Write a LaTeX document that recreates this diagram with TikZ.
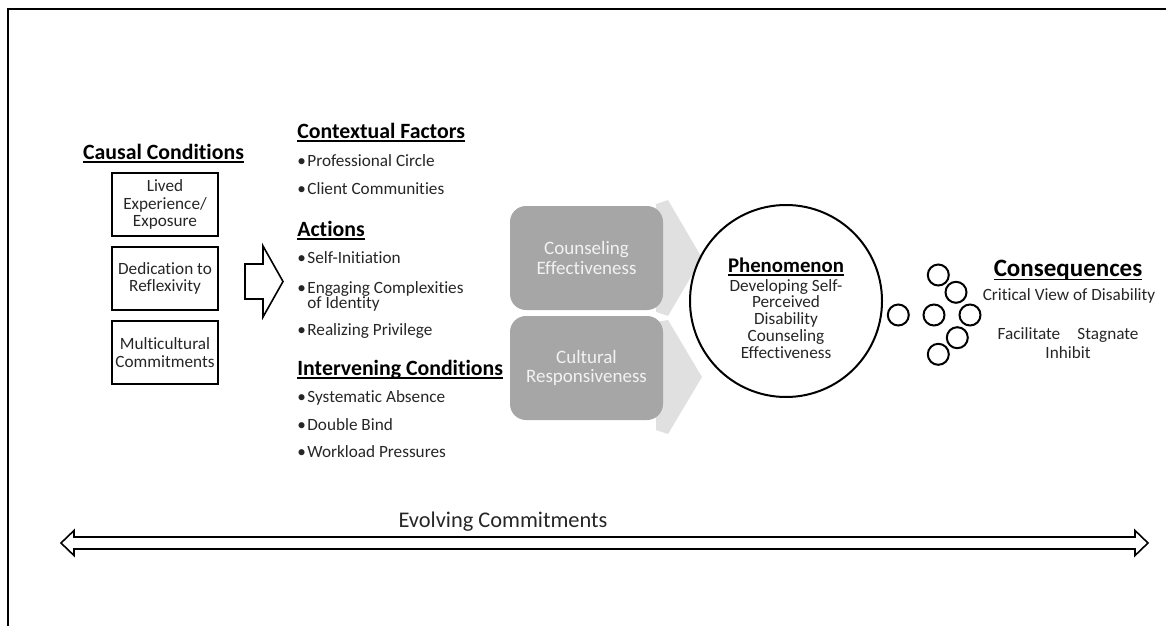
\documentclass[tikz,border=0pt]{standalone}
\usepackage{fontspec}
\setmainfont{Carlito}[Ligatures=NoCommon]
\definecolor{boxgrey}{RGB}{166,166,166}
\definecolor{chevgrey}{RGB}{224,224,224}
\definecolor{txtgrey}{RGB}{38,38,38}
\newcommand{\hdfont}{\fontsize{10.9}{13}\selectfont\bfseries}
\newcommand{\txtfont}{\fontsize{8.6}{8.8}\selectfont}
% underline at a fixed depth, like a word processor does it
\newcommand{\uhead}[1]{\setbox0\hbox{#1}\rlap{\vrule width\wd0 height -1.1pt depth 1.85pt}\box0}
\newcommand{\itm}[1]{\makebox[5pt][l]{•}#1}

\begin{document}
\begin{tikzpicture}[x=0.5pt,y=-0.5pt]
	\tikzstyle{cond} = [draw,line width=1pt,minimum width=53pt,minimum height=31.5pt,align=center,font=\txtfont,text=txtgrey,inner sep=0pt]
	\tikzstyle{head} = [anchor=base west,inner sep=0pt,font=\hdfont]
	\tikzstyle{item} = [anchor=base west,inner sep=0pt,font=\txtfont,text=txtgrey]
	\tikzstyle{stage} = [fill=boxgrey,rounded corners=8pt,minimum width=76.5pt,minimum height=52pt,align=center,text=white!95!black,font=\fontsize{9.5}{9.7}\selectfont]
	\tikzstyle{dot} = [circle,draw,line width=1pt,minimum size=10.5pt,inner sep=0pt]
	\useasboundingbox (0,0) rectangle (1166,626);
	\draw[line width=1.2pt] (8,626) -- (8,9) -- (1166,9);

	% causal conditions
	\node[head,anchor=base](causal)at(163.5,159){\uhead{Causal Conditions}};
	\node[cond](lived)at(165,204.5){Lived\\Experience/\\Exposure};
	\node[cond](reflex)at(165,278.5){Dedication to\\Reflexivity};
	\node[cond](multi)at(165,352.5){Multicultural\\Commitments};
	\coordinate (push) at (245,281.5);
	\draw[line width=0.8pt,fill=white] (push) ++(0,-17.5) -- ++(18,0) -- ++(0,-18) -- ++(20,35.5)
	-- ++(-20,35.5) -- ++(0,-18) -- ++(-18,0) -- cycle;

	% factors, actions and conditions
	\node[head](context)at(297,138){\uhead{Contextual Factors}};
	\node[item](prof)at(297,166){\itm{Professional Circle}};
	\node[item](client)at(297,194.3){\itm{Client Communities}};
	\node[head](actions)at(297,236){\uhead{Actions}};
	\node[item](selfinit)at(297,263.3){\itm{Self-Initiation}};
	\node[item](engage)at(297,293.3){\itm{Engaging Complexities}};
	\node[item](identity)at(307,308.3){of Identity};
	\node[item](privilege)at(297,335.7){\itm{Realizing Privilege}};
	\node[head](interv)at(297,375){\uhead{Intervening Conditions}};
	\node[item](absence)at(297,402.3){\itm{Systematic Absence}};
	\node[item](bind)at(297,430){\itm{Double Bind}};
	\node[item](workload)at(297,457.7){\itm{Workload Pressures}};

	% chevrons behind the two stages
	\fill[chevgrey] (656,204) -- (668,200) -- (702,258) -- (668,316) -- (656,312) -- cycle;
	\fill[chevgrey] (656,322) -- (668,320) -- (702,377) -- (668,434) -- (656,430) -- cycle;
	\node[stage](effect)at(586.5,258){Counseling\\Effectiveness};
	\node[stage](respons)at(586.5,368){Cultural\\Responsiveness};

	% phenomenon
	\node[circle,draw,line width=1pt,minimum size=96pt,inner sep=0pt](phen)at(786,301){};
	\node[align=center,inner sep=0pt,font=\fontsize{8.6}{8.4}\selectfont,text=txtgrey](phentext)at(786,308)
	{{\fontsize{10.4}{12}\selectfont\bfseries\color{black}\uhead{Phenomenon}}\\[1pt]
	Developing Self-\\Perceived\\Disability\\Counseling\\Effectiveness};

	% consequences
	\node[dot](d1)at(898.3,315){};
	\node[dot](d2)at(934,315){};
	\node[dot](d3)at(970,315){};
	\node[dot](d4)at(938.3,275){};
	\node[dot](d5)at(956,292.3){};
	\node[dot](d6)at(957.3,337.7){};
	\node[dot](d7)at(938.3,354.3){};
	\node[head,anchor=base,font=\fontsize{12.5}{15}\selectfont\bfseries](conseq)at(1068,276.7){\uhead{Consequences}};
	\node[item,anchor=base](critical)at(1069,300.7){Critical View of Disability};
	\node[item,anchor=base](facil)at(1029,339.3){Facilitate};
	\node[item,anchor=base](stag)at(1108,339.3){Stagnate};
	\node[item,anchor=base](inhib)at(1068,358.3){Inhibit};

	% time line
	\coordinate (past) at (61,543);
	\coordinate (future) at (1148,543);
	\draw[line width=0.8pt] (past) -- (74,530.5) -- (74,537) -- (1135,537) -- (1135,530.5) -- (future)
	-- (1135,555.5) -- (1135,549) -- (74,549) -- (74,555.5) -- cycle;
	\node[anchor=base,inner sep=0pt,font=\fontsize{11.2}{13}\selectfont,text=txtgrey](evolving)at(503,527){Evolving Commitments};
\end{tikzpicture}
\end{document}
